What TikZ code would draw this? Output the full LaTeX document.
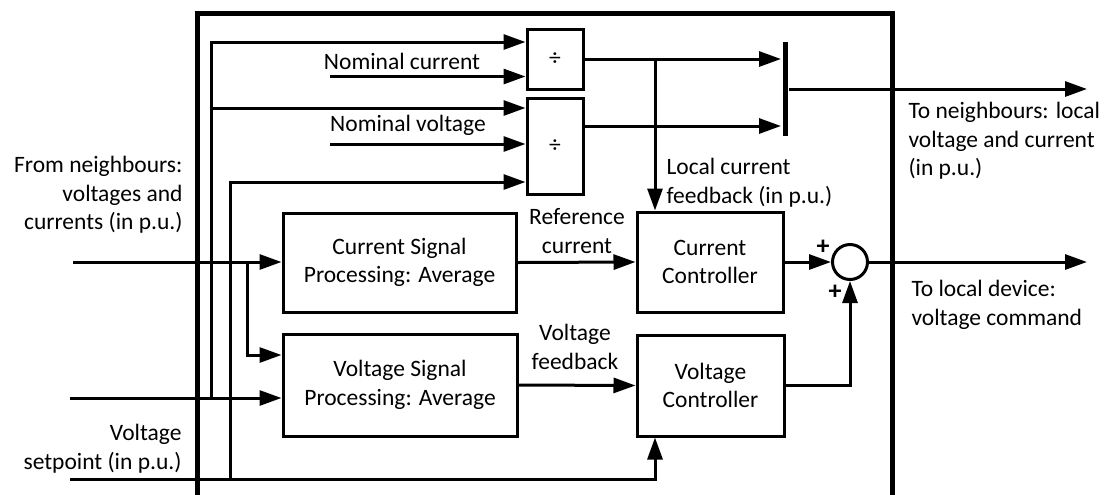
\documentclass[tikz,border=0pt]{standalone}
\usepackage{fontspec}
\setmainfont{Carlito}
\usetikzlibrary{arrows.meta}

\begin{document}
\begin{tikzpicture}[x=0.5pt, y=-0.5pt, line width=1.5pt,
    font=\fontsize{11.75pt}{14.35pt}\selectfont,
    >={Triangle[length=11pt, width=7.5pt]},
    blk/.style={draw, inner sep=0pt, align=center},
    lbl/.style={inner sep=0pt, align=center}]
  % pixel grid of the original: x right, y down
  \useasboundingbox (0,0) rectangle (1109,494);
  \clip (0,0) rectangle (1109,494);
  \draw[line width=2.5pt] (197,520) -- (197,13) -- (892,13) -- (892,520);
  % blocks
  \node[blk, minimum width=28pt, minimum height=30pt] (div1) at (555,59) {÷};
  \node[blk, minimum width=28pt, minimum height=48pt] (div2) at (555,146) {÷};
  \node[blk, minimum width=116.5pt, minimum height=49.5pt] (csp) at (399.5,262.5) {Current Signal\\Processing: Average};
  \node[blk, minimum width=117pt, minimum height=51pt] (vsp) at (400,385) {Voltage Signal\\Processing: Average};
  \node[blk, minimum width=73pt, minimum height=50pt] (cc) at (710,262) {Current\\Controller};
  \node[blk, minimum width=73.5pt, minimum height=50.5pt] (vc) at (710.5,385.5) {Voltage\\Controller};
  \node[draw, circle, inner sep=0pt, minimum size=17.5pt] (sum) at (850,262) {};
  \node[fill, inner sep=0pt, minimum width=2.5pt, minimum height=47pt] (bar) at (785,89) {};
  % signal points
  \coordinate (inI) at (73,262); \coordinate (inV) at (70,398); \coordinate (inS) at (70,479);
  \coordinate (a1) at (211,42); \coordinate (a2) at (211,108); \coordinate (a3) at (211,398);
  \coordinate (b1) at (230,182); \coordinate (b2) at (230,479);
  \coordinate (c1) at (247,262); \coordinate (c2) at (247,355);
  \coordinate (nomI) at (330,76.5); \coordinate (nomV) at (330,144);
  \coordinate (j1) at (655,59); \coordinate (sp) at (655,479);
  \coordinate (outN) at (1087,89); \coordinate (outD) at (1087,262);
  % connectors
  \draw[->] (a3) |- (a1 -| div1.west);
  \draw[->] (a2) -- (a2 -| div2.west);
  \draw[->] (b2) |- (b1 -| div2.west);
  \draw[->] (nomI) -- (nomI -| div1.west);
  \draw[->] (nomV) -- (nomV -| div2.west);
  \draw[->] (inI) -- (inI -| csp.west);
  \draw[->] (c1) |- (c2 -| vsp.west);
  \draw[->] (inV) -- (inV -| vsp.west);
  \draw[->] (inS) -| (sp |- vc.south);
  \draw[->] (div1.east) -- (div1.east -| bar.west);
  \draw[->] ([yshift=10pt]div2.east) -- ([yshift=10pt]div2.east -| bar.west);
  \draw[->] (j1) -- (j1 |- cc.north);
  \draw[->] (bar.east) -- (outN);
  \draw[->] (csp.east) -- (cc.west);
  \draw[->] (vsp.east) -- (vc.west);
  \draw[->] (cc.east) -- (sum.west);
  \draw[->] (vc.east) -| (sum.south);
  \draw[->] (sum.east) -- (outD);
  % labels
  \node[lbl] (nomIt) at (402,61) {Nominal current};
  \node[lbl] (nomVt) at (408,125) {Nominal voltage};
  \node[lbl, anchor=west, align=left] (fbI) at (665,183) {Local current\\feedback (in p.u.)};
  \node[lbl] (refI) at (577,231) {Reference\\current};
  \node[lbl] (fbV) at (575,347) {Voltage\\feedback};
  \node[lbl, anchor=east, align=right] (fromN) at (184,195) {From neighbours:\\voltages and\\currents (in p.u.)};
  \node[lbl, anchor=east, align=right] (setV) at (183,449) {Voltage\\setpoint (in p.u.)};
  \node[lbl, anchor=west, align=left] (toN) at (907,141) {To neighbours: local\\voltage and current\\(in p.u.)};
  \node[lbl, anchor=west, align=left] (toD) at (910,305) {To local device:\\voltage command};
  \node[lbl, font=\fontsize{13pt}{14pt}\bfseries] (p1) at (823,247) {+};
  \node[lbl, font=\fontsize{13pt}{14pt}\bfseries] (p2) at (835,292) {+};
\end{tikzpicture}
\end{document}
